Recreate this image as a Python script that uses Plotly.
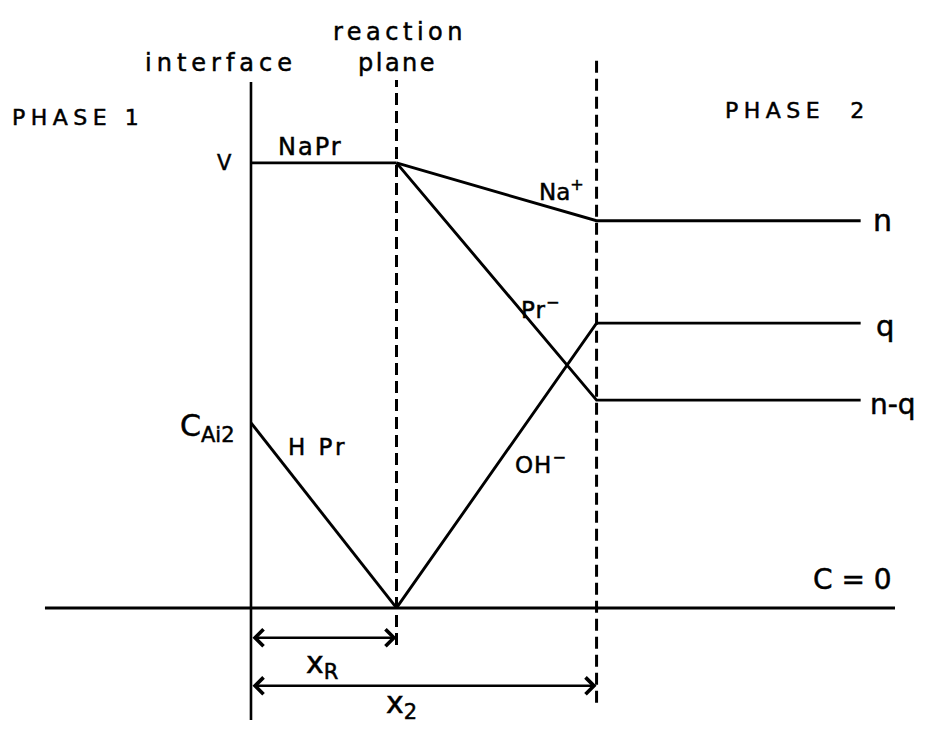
import plotly.graph_objects as go

# Positions along the diffusion path (interface at 0, distances in units of x_R)
x_interface = 0.0
x_R = 1.0
x_2 = 2.375
x_bulk_end = 4.19
x_base = [-1.416, 4.426]

# Concentration levels (arbitrary units, V = 1)
V = 1.0
n = 0.870
q = 0.640
n_minus_q = 0.467
C_Ai2 = 0.416
C_zero = 0.0

# Extents of the vertical marker lines
interface_span = [-0.252, 1.182]
reaction_span = [-0.083, 1.186]
x2_span = [-0.213, 1.243]
arrow_xR_level = -0.067
arrow_x2_level = -0.175

FONT = "DejaVu Sans"
INK = "black"
LW = 2.9

fig = go.Figure()


def line(xs, ys, dash="solid", width=LW):
    fig.add_trace(go.Scatter(
        x=xs, y=ys, mode="lines",
        line=dict(color=INK, width=width, dash=dash),
        hoverinfo="skip", showlegend=False,
    ))


# C = 0 baseline
line(x_base, [C_zero, C_zero])
# interface (solid) and the two planes (dashed)
line([x_interface, x_interface], interface_span, width=2.6)
line([x_R, x_R], reaction_span, dash="12px,6px", width=3)
line([x_2, x_2], x2_span, dash="12px,6px", width=3)

# concentration profiles
line([x_interface, x_R], [V, V])                                  # NaPr
line([x_R, x_2, x_bulk_end], [V, n, n])                           # Na+
line([x_R, x_2, x_bulk_end], [V, n_minus_q, n_minus_q])           # Pr-
line([x_R, x_2, x_bulk_end], [C_zero, q, q])                      # OH-
line([x_interface, x_R], [C_Ai2, C_zero])                         # HPr


def label(text, x, y, size, spacing=0, xanchor="center", yanchor="middle"):
    # lettering drawn slightly heavier with a thin outline
    style = "stroke:#000;stroke-width:0.5px"
    if spacing:
        style += f";letter-spacing:{spacing}px"
    text = f'<span style="{style}">{text}</span>'
    fig.add_annotation(
        x=x, y=y, text=text, showarrow=False,
        xanchor=xanchor, yanchor=yanchor,
        font=dict(family=FONT, size=size, color=INK),
    )


label("reaction", 1.024, 1.294, 24, 4.5)
label("plane", 1.01, 1.225, 24, 2.5)
label("interface", -0.206, 1.225, 24, 5)
label("PHASE 1", -1.189, 1.101, 22, 5.5)
label("PHASE\u00a0\u00a02", 3.753, 1.117, 22, 5.5)
label("V", -0.179, V, 21)
label("NaPr", 0.412, 1.036, 24, 2)
label("Na<sup>+</sup>", 2.137, 0.939, 23)
label("Pr<sup>\u2212</sup>", 1.993, 0.674, 23, 1)
label("H Pr", 0.46, 0.362, 23, 3)
label("OH<sup>\u2212</sup>", 1.993, 0.326, 23, 1)
label("C<sub>Ai2</sub>", -0.296, 0.405, 30)
label("n", 4.34, n, 30)
label("q", 4.357, 0.634, 29)
label("n-q", 4.41, 0.458, 28)
label("C = 0", 4.137, 0.065, 28)
label("x<sub>R</sub>", 0.488, -0.128, 30)
label("x<sub>2</sub>", 1.031, -0.218, 30)


def span_arrow(x0, x1, y):
    fig.add_annotation(
        x=x1, y=y, ax=x0, ay=y, axref="x", ayref="y", xref="x", yref="y",
        text="", showarrow=True, arrowside="end+start",
        arrowhead=4, startarrowhead=4, arrowsize=1.3, startarrowsize=1.3,
        arrowwidth=2.5, arrowcolor=INK,
    )


span_arrow(x_interface, x_R, arrow_xR_level)
span_arrow(x_interface, x_2, arrow_x2_level)

fig.update_layout(
    width=927, height=729,
    margin=dict(l=0, r=0, t=0, b=0),
    paper_bgcolor="white", plot_bgcolor="white",
    xaxis=dict(range=[-1.725, 4.646], visible=False, fixedrange=True),
    yaxis=dict(range=[-0.272, 1.366], visible=False, fixedrange=True),
    showlegend=False,
)

fig.write_html("out.html")
